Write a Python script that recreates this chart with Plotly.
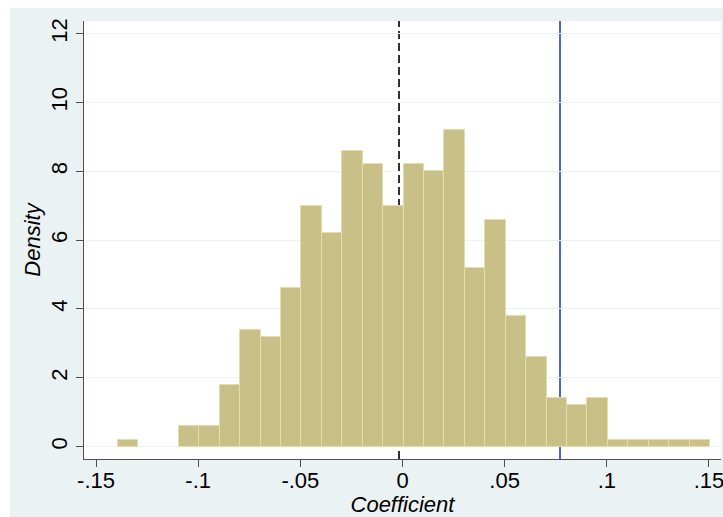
import plotly.graph_objects as go

# Histogram of simulated coefficients (density scale, 29 bins of width 0.01)
bin_start = -0.1395
bin_width = 0.01
density = [0.2, 0.0, 0.0, 0.6, 0.6, 1.8, 3.4, 3.2, 4.6, 7.0,
           6.2, 8.6, 8.2, 7.0, 8.2, 8.0, 9.2, 5.2, 6.6, 3.8,
           2.6, 1.4, 1.2, 1.4, 0.2, 0.2, 0.2, 0.2, 0.2]

# Reference lines: mean of the placebo coefficients and the actual estimate
mean_coef = -0.0017
actual_coef = 0.0771

x_tickvals = [-0.15, -0.1, -0.05, 0, 0.05, 0.1, 0.15]
x_ticktext = ["-.15", "-.1", "-.05", "0", ".05", ".1", ".15"]
y_tickvals = [0, 2, 4, 6, 8, 10, 12]

centers = [bin_start + bin_width * (i + 0.5) for i in range(len(density))]
# empty bins get no outline so nothing is drawn for them
outline_w = [1 if d > 0 else 0 for d in density]

BG = "#eaf2f3"
FONT = "Liberation Sans, Arial, Helvetica, sans-serif"
AXC = "#505050"

fig = go.Figure()
fig.add_trace(go.Bar(
    x=centers, y=density, width=bin_width,
    marker=dict(color="#c9c088", line=dict(color="#e4dcab", width=outline_w)),
    showlegend=False, hoverinfo="x+y",
))

W, H = 723, 517
ml, mr, mt, mb = 84, 2, 21, 58
pw, ph = W - ml - mr, H - mt - mb

shapes = [
    # light graph region behind the white plot area
    dict(type="rect", xref="paper", yref="paper",
         x0=(10 - ml) / pw, x1=1 + (mr + 5) / pw,
         y0=-(mb + 5) / ph, y1=1 + (mt - 8) / ph,
         fillcolor=BG, line=dict(width=0), layer="below"),
    dict(type="rect", xref="paper", yref="paper", x0=0, x1=1, y0=0, y1=1,
         fillcolor="white", line=dict(width=0), layer="below"),
    dict(type="line", xref="x", yref="paper", x0=mean_coef, x1=mean_coef,
         y0=0, y1=1, line=dict(color="black", width=1.6, dash="8px,4px"),
         layer="below"),
    dict(type="line", xref="x", yref="paper", x0=actual_coef, x1=actual_coef,
         y0=0, y1=1, line=dict(color="#5062da", width=2), layer="below"),
]

fig.update_layout(
    width=W, height=H,
    margin=dict(l=ml, r=mr, t=mt, b=mb, autoexpand=False),
    paper_bgcolor="white", plot_bgcolor="white",
    font=dict(family=FONT, size=22, color="black"),
    bargap=0, shapes=shapes,
    xaxis=dict(
        range=[-0.1559, 0.1559], tickvals=x_tickvals, ticktext=x_ticktext,
        showgrid=False, zeroline=False, showline=True, linecolor=AXC,
        linewidth=1, ticks="outside", ticklen=7, tickcolor=AXC,
        tickfont=dict(size=22), ticklabeloverflow="allow",
        ticklabelstandoff=-5, automargin=False,
        title=dict(text="<i>Coefficient</i>", font=dict(size=22), standoff=0),
    ),
    yaxis=dict(
        range=[-0.36, 12.37], tickvals=y_tickvals,
        showgrid=True, gridcolor=BG, gridwidth=1, zeroline=False,
        showline=True, linecolor=AXC, linewidth=1,
        ticks="outside", ticklen=7, tickcolor=AXC, automargin=False,
        tickangle=-90, tickfont=dict(size=22),
        title=dict(text="<i>Density</i>", font=dict(size=22), standoff=0),
    ),
)

fig.write_html("out.html")
